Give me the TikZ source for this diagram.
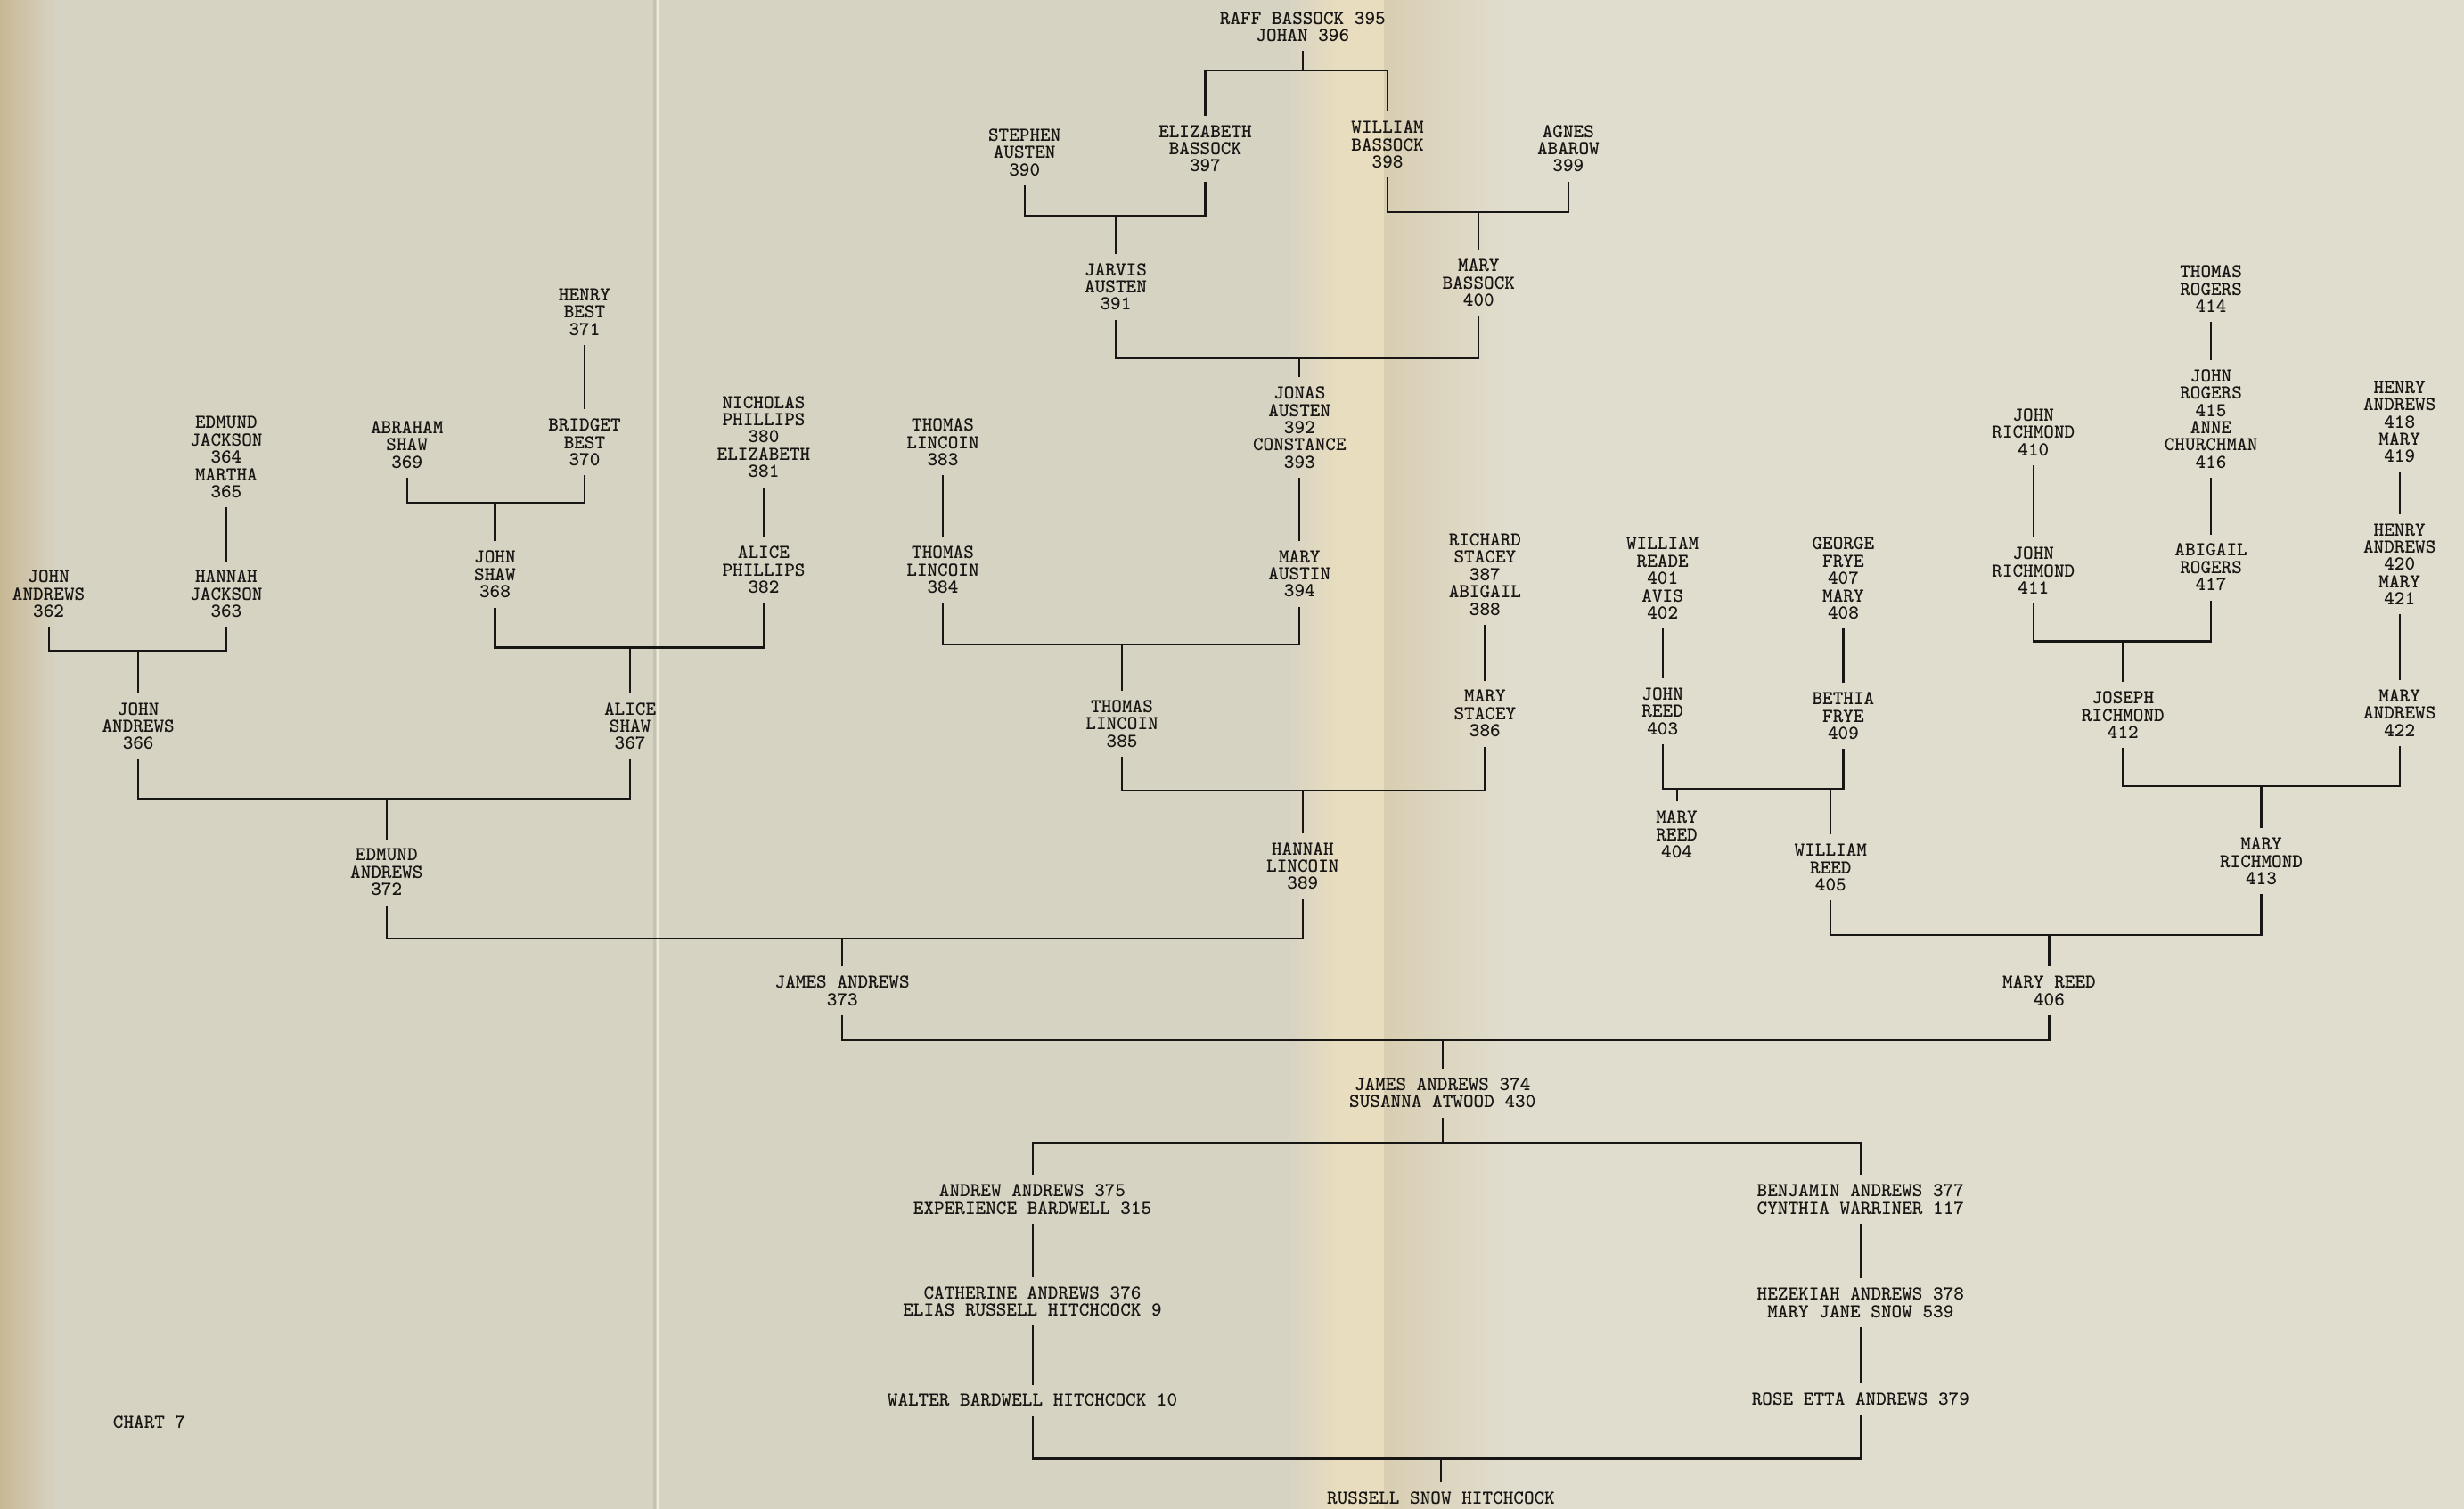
\documentclass[tikz,border=0pt]{standalone}
\definecolor{paperL}{RGB}{215,211,195}
\definecolor{paperR}{RGB}{225,221,206}
\definecolor{paperBand}{RGB}{232,221,190}
\definecolor{paperShadow}{RGB}{216,206,178}
\definecolor{paperEdge}{RGB}{200,184,148}
\definecolor{foldHi}{RGB}{236,233,222}
\definecolor{foldSh}{RGB}{198,194,178}
\definecolor{ink}{RGB}{24,22,20}
\begin{document}
\begin{tikzpicture}[x=0.035cm,y=-0.035cm,
  person/.style={align=center,font=\ttfamily\bfseries\fontsize{12.5}{10.96}\selectfont,text=ink,inner xsep=2pt,inner ysep=6pt,outer sep=0pt},
  link/.style={draw=ink,line width=1.2pt}]
\useasboundingbox (0,0) rectangle (1568,960);
% paper
\fill[paperL] (0,0) rectangle (1568,960);
\fill[paperR] (960,0) rectangle (1568,960);
\shade[left color=paperL,right color=paperBand] (820,0) rectangle (852,960);
\fill[paperBand] (852,0) rectangle (881,960);
\shade[left color=paperShadow,right color=paperR] (881,0) rectangle (960,960);
\shade[left color=paperEdge,right color=paperL] (0,0) rectangle (36,960);
\draw[foldSh,line width=1.2pt] (416.5,0) -- (416.5,960);
\draw[foldHi,line width=1.2pt] (418.5,0) -- (418.5,960);

% bar levels
\foreach \yy in {45,135,137,228,320,408,410,412,414,500,502,503,508,595,597,662,727,928}
  \coordinate (y\yy) at (0,\yy);

% ---- top centre
\node[person] (n395) at (829,17) {RAFF BASSOCK 395\\JOHAN 396};
\node[person] (n390) at (652,97) {STEPHEN\\AUSTEN\\390};
\node[person] (n397) at (767,94.5) {ELIZABETH\\BASSOCK\\397};
\node[person] (n398) at (883,92) {WILLIAM\\BASSOCK\\398};
\node[person] (n399) at (998,94.5) {AGNES\\ABAROW\\399};
\node[person] (n391) at (710,182.5) {JARVIS\\AUSTEN\\391};
\node[person] (n400) at (941,180) {MARY\\BASSOCK\\400};
\node[person] (n392) at (827,272) {JONAS\\AUSTEN\\392\\CONSTANCE\\393};
\node[person] (n394) at (827,365) {MARY\\AUSTIN\\394};
\node[person] (n383) at (600,281.5) {THOMAS\\LINCOIN\\383};
\node[person] (n384) at (600,362.5) {THOMAS\\LINCOIN\\384};
\node[person] (n385) at (714,460.5) {THOMAS\\LINCOIN\\385};
\node[person] (n387) at (945,365.5) {RICHARD\\STACEY\\387\\ABIGAIL\\388};
\node[person] (n386) at (945,454) {MARY\\STACEY\\386};
\node[person] (n389) at (829,551) {HANNAH\\LINCOIN\\389};
\node[person] (n373) at (536,630.5) {JAMES ANDREWS\\373};

% ---- left
\node[person] (n371) at (372,198.5) {HENRY\\BEST\\371};
\node[person] (n370) at (372,281.5) {BRIDGET\\BEST\\370};
\node[person] (n369) at (259,283) {ABRAHAM\\SHAW\\369};
\node[person] (n368) at (315,365.5) {JOHN\\SHAW\\368};
\node[person] (n380) at (486,278) {NICHOLAS\\PHILLIPS\\380\\ELIZABETH\\381};
\node[person] (n382) at (486,362.5) {ALICE\\PHILLIPS\\382};
\node[person] (n367) at (401,462) {ALICE\\SHAW\\367};
\node[person] (n364) at (144,291) {EDMUND\\JACKSON\\364\\MARTHA\\365};
\node[person] (n363) at (144,378) {HANNAH\\JACKSON\\363};
\node[person] (n362) at (31,378) {JOHN\\ANDREWS\\362};
\node[person] (n366) at (88,462) {JOHN\\ANDREWS\\366};
\node[person] (n372) at (246,555) {EDMUND\\ANDREWS\\372};

% ---- right
\node[person] (n401) at (1058,368) {WILLIAM\\READE\\401\\AVIS\\402};
\node[person] (n403) at (1058,452.5) {JOHN\\REED\\403};
\node[person] (n407) at (1173,368) {GEORGE\\FRYE\\407\\MARY\\408};
\node[person] (n409) at (1173,455.5) {BETHIA\\FRYE\\409};
\node[person] (n404) at (1067,531) {MARY\\REED\\404};
\node[person] (n405) at (1165,552) {WILLIAM\\REED\\405};
\node[person] (n414) at (1407,184) {THOMAS\\ROGERS\\414};
\node[person] (n415) at (1407,266.5) {JOHN\\ROGERS\\415\\ANNE\\CHURCHMAN\\416};
\node[person] (n417) at (1407,361) {ABIGAIL\\ROGERS\\417};
\node[person] (n410) at (1294,275) {JOHN\\RICHMOND\\410};
\node[person] (n411) at (1294,363) {JOHN\\RICHMOND\\411};
\node[person] (n412) at (1351,455) {JOSEPH\\RICHMOND\\412};
\node[person] (n418) at (1527,268.5) {HENRY\\ANDREWS\\418\\MARY\\419};
\node[person] (n420) at (1527,359) {HENRY\\ANDREWS\\420\\MARY\\421};
\node[person] (n422) at (1527,453.5) {MARY\\ANDREWS\\422};
\node[person] (n413) at (1439,548) {MARY\\RICHMOND\\413};
\node[person] (n406) at (1304,630.5) {MARY REED\\406};

% ---- bottom
\node[person] (n374) at (918,695.5) {JAMES ANDREWS 374\\SUSANNA ATWOOD 430};
\node[person] (n375) at (657,763) {ANDREW ANDREWS 375\\EXPERIENCE BARDWELL 315};
\node[person] (n377) at (1184,763) {BENJAMIN ANDREWS 377\\CYNTHIA WARRINER 117};
\node[person] (n376) at (657,828) {CATHERINE ANDREWS 376\\ELIAS RUSSELL HITCHCOCK 9};
\node[person] (n378) at (1184,829) {HEZEKIAH ANDREWS 378\\MARY JANE SNOW 539};
\node[person] (n10) at (657,891) {WALTER BARDWELL HITCHCOCK 10};
\node[person] (n379) at (1184,890) {ROSE ETTA ANDREWS 379};
\node[person] (nrsh) at (917,953) {RUSSELL SNOW HITCHCOCK};
\node[person,anchor=west] (chart) at (70,905) {CHART 7};

% ---- connectors: top centre
\draw[link] (n395.south) -- (n395.south |- y45);
\draw[link] (n397.north) -- (n397.north |- y45) -- (n398.north |- y45) -- (n398.north);
\draw[link] (n390.south) -- (n390.south |- y137) -- (n397.south |- y137) -- (n397.south);
\draw[link] (n391.north) -- (n391.north |- y137);
\draw[link] (n398.south) -- (n398.south |- y135) -- (n399.south |- y135) -- (n399.south);
\draw[link] (n400.north) -- (n400.north |- y135);
\draw[link] (n391.south) -- (n391.south |- y228) -- (n400.south |- y228) -- (n400.south);
\draw[link] (n392.north) -- (n392.north |- y228);
\draw[link] (n392.south) -- (n394.north);
\draw[link] (n383.south) -- (n384.north);
\draw[link] (n384.south) -- (n384.south |- y410) -- (n394.south |- y410) -- (n394.south);
\draw[link] (n385.north) -- (n385.north |- y410);
\draw[link] (n387.south) -- (n386.north);
\draw[link] (n385.south) -- (n385.south |- y503) -- (n386.south |- y503) -- (n386.south);
\draw[link] (n389.north) -- (n389.north |- y503);
\draw[link] (n372.south) -- (n372.south |- y597) -- (n389.south |- y597) -- (n389.south);
\draw[link] (n373.north) -- (n373.north |- y597);

% ---- connectors: left
\draw[link] (n371.south) -- (n370.north);
\draw[link] (n369.south) -- (n369.south |- y320) -- (n370.south |- y320) -- (n370.south);
\draw[link] (n368.north) -- (n368.north |- y320);
\draw[link] (n380.south) -- (n382.north);
\draw[link] (n368.south) -- (n368.south |- y412) -- (n382.south |- y412) -- (n382.south);
\draw[link] (n367.north) -- (n367.north |- y412);
\draw[link] (n364.south) -- (n363.north);
\draw[link] (n362.south) -- (n362.south |- y414) -- (n363.south |- y414) -- (n363.south);
\draw[link] (n366.north) -- (n366.north |- y414);
\draw[link] (n366.south) -- (n366.south |- y508) -- (n367.south |- y508) -- (n367.south);
\draw[link] (n372.north) -- (n372.north |- y508);

% ---- connectors: right
\draw[link] (n401.south) -- (n403.north);
\draw[link] (n407.south) -- (n409.north);
\draw[link] (n403.south) -- (n403.south |- y502) -- (n409.south |- y502) -- (n409.south);
\draw[link] (n404.north) -- (n404.north |- y502);
\draw[link] (n405.north) -- (n405.north |- y502);
\draw[link] (n414.south) -- (n415.north);
\draw[link] (n415.south) -- (n417.north);
\draw[link] (n410.south) -- (n411.north);
\draw[link] (n411.south) -- (n411.south |- y408) -- (n417.south |- y408) -- (n417.south);
\draw[link] (n412.north) -- (n412.north |- y408);
\draw[link] (n418.south) -- (n420.north);
\draw[link] (n420.south) -- (n422.north);
\draw[link] (n412.south) -- (n412.south |- y500) -- (n422.south |- y500) -- (n422.south);
\draw[link] (n413.north) -- (n413.north |- y500);
\draw[link] (n405.south) -- (n405.south |- y595) -- (n413.south |- y595) -- (n413.south);
\draw[link] (n406.north) -- (n406.north |- y595);

% ---- connectors: bottom
\draw[link] (n373.south) -- (n373.south |- y662) -- (n406.south |- y662) -- (n406.south);
\draw[link] (n374.north) -- (n374.north |- y662);
\draw[link] (n374.south) -- (n374.south |- y727);
\draw[link] (n375.north) -- (n375.north |- y727) -- (n377.north |- y727) -- (n377.north);
\draw[link] (n375.south) -- (n376.north);
\draw[link] (n376.south) -- (n10.north);
\draw[link] (n377.south) -- (n378.north);
\draw[link] (n378.south) -- (n379.north);
\draw[link] (n10.south) -- (n10.south |- y928) -- (n379.south |- y928) -- (n379.south);
\draw[link] (nrsh.north) -- (nrsh.north |- y928);
\end{tikzpicture}
\end{document}
